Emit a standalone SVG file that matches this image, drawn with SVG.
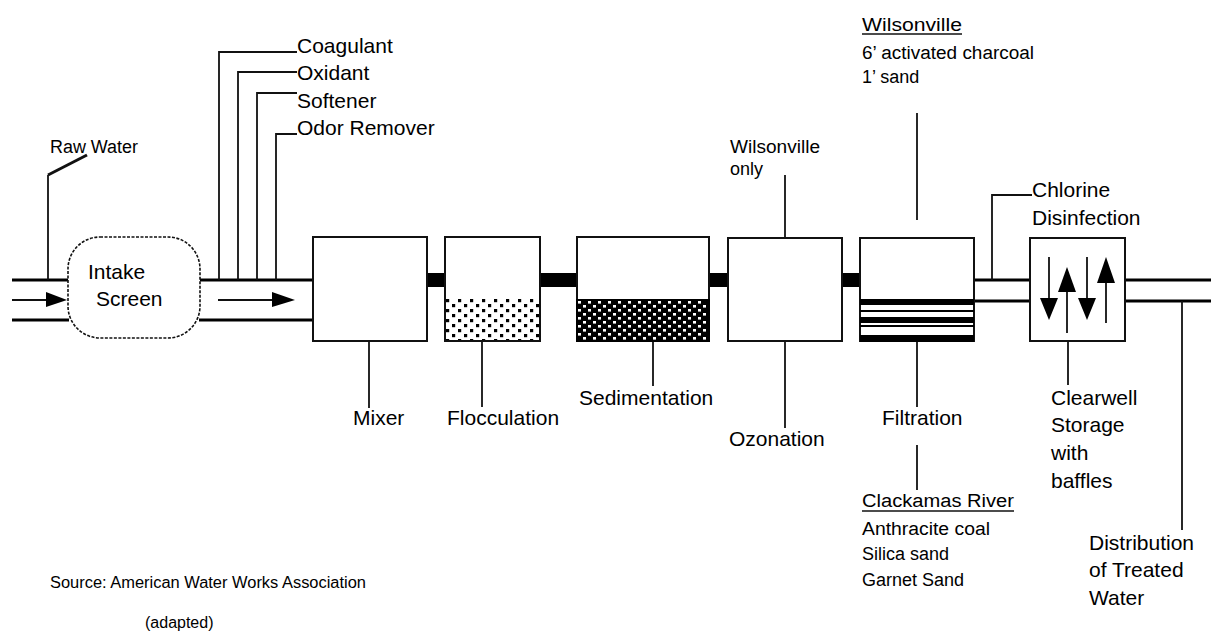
<svg xmlns="http://www.w3.org/2000/svg" width="1211" height="633" viewBox="0 0 1211 633">
<style>
text{font-family:"Liberation Sans",Arial,sans-serif;fill:#000;}
.lbl{font-size:21px;}
.sm{font-size:18px;}
.xs{font-size:16px;}
.ld{stroke:#111;stroke-width:1.8;fill:none;}
.pipe{stroke:#000;stroke-width:3.2;fill:none;}
.box{fill:#fff;stroke:#111;stroke-width:2;}
.bar{fill:#000;}
.ah{fill:#000;}
</style>
<defs>
<pattern id="floc" width="12" height="10" patternUnits="userSpaceOnUse" x="445" y="298">
<rect width="12" height="10" fill="#fff"/>
<rect x="1" y="1" width="3.2" height="3.2" fill="#000"/>
<rect x="7" y="6" width="3.2" height="3.2" fill="#000"/>
</pattern>
<pattern id="sed" width="10" height="8" patternUnits="userSpaceOnUse" x="577" y="300">
<rect width="10" height="8" fill="#000"/>
<rect x="1" y="1" width="3" height="2.6" fill="#fff"/>
<rect x="6" y="5" width="3" height="2.6" fill="#fff"/>
</pattern>
</defs>

<g id="connectors">
<line class="pipe" x1="12" y1="280" x2="69" y2="280"/>
<line class="pipe" x1="12" y1="320" x2="69" y2="320"/>
<line class="ld" x1="12" y1="300" x2="50" y2="300"/>
<polygon class="ah" points="46,292 67,300 46,307"/>
<line class="pipe" x1="199" y1="280" x2="313" y2="280"/>
<line class="pipe" x1="199" y1="320" x2="313" y2="320"/>
<line class="ld" x1="218" y1="300" x2="275" y2="300"/>
<polygon class="ah" points="272,292 295,300 272,307"/>
<polyline class="ld" points="219,280 219,52 297,52"/>
<polyline class="ld" points="238,280 238,72 297,72"/>
<polyline class="ld" points="257,280 257,93 297,93"/>
<polyline class="ld" points="276,280 276,134 297,134"/>
<polyline class="ld" points="48,280 48,175"/>
<line x1="48" y1="175" x2="87" y2="155" stroke="#111" stroke-width="3"/>
<rect class="bar" x="427" y="273" width="25" height="14"/>
<rect class="bar" x="535" y="273" width="49" height="14"/>
<rect class="bar" x="705" y="273" width="30" height="14"/>
<rect class="bar" x="837" y="273" width="23" height="14"/>
<line class="pipe" x1="974" y1="280" x2="1030" y2="280"/>
<line class="pipe" x1="974" y1="301" x2="1030" y2="301"/>
<polyline class="ld" points="992,280 992,195 1032,195"/>
<line class="pipe" x1="1125" y1="280" x2="1211" y2="280"/>
<line class="pipe" x1="1125" y1="301" x2="1211" y2="301"/>
<line class="ld" x1="1182" y1="301" x2="1182" y2="530"/>
<line class="ld" x1="369" y1="341" x2="369" y2="408"/>
<line class="ld" x1="482" y1="341" x2="482" y2="407"/>
<line class="ld" x1="653" y1="341" x2="653" y2="386"/>
<line class="ld" x1="785" y1="175" x2="785" y2="238"/>
<line class="ld" x1="785" y1="341" x2="785" y2="428"/>
<line class="ld" x1="917" y1="113" x2="917" y2="220"/>
<line class="ld" x1="917" y1="341" x2="917" y2="407"/>
<line class="ld" x1="917" y1="445" x2="917" y2="490"/>
<line class="ld" x1="1068" y1="341" x2="1068" y2="385"/>
</g>

<g id="raw-water">
<text class="sm" x="50" y="153" textLength="88" lengthAdjust="spacingAndGlyphs">Raw Water</text>
</g>

<g id="chemicals">
<text class="lbl" x="297" y="53">Coagulant</text>
<text class="lbl" x="297" y="80">Oxidant</text>
<text class="lbl" x="297" y="108">Softener</text>
<text class="lbl" x="297" y="135">Odor Remover</text>
</g>

<g id="intake-screen">
<rect x="68" y="237" width="132" height="101" rx="32" ry="32" fill="#fff" stroke="#111" stroke-width="1.6" stroke-dasharray="3 1.5"/>
<text class="lbl" x="88" y="279">Intake</text>
<text class="lbl" x="96" y="306">Screen</text>
</g>

<g id="mixer">
<rect class="box" x="313" y="237" width="114" height="104"/>
<text class="lbl" x="353" y="425">Mixer</text>
</g>

<g id="flocculation">
<rect class="box" x="445" y="237" width="95" height="104"/>
<rect x="446" y="298" width="93" height="42" fill="url(#floc)"/>
<text class="lbl" x="447" y="425">Flocculation</text>
</g>

<g id="sedimentation">
<rect class="box" x="577" y="237" width="132" height="104"/>
<rect x="577" y="300" width="132" height="41" fill="url(#sed)" stroke="#000" stroke-width="2"/>
<text class="lbl" x="579" y="405">Sedimentation</text>
</g>

<g id="ozonation">
<rect class="box" x="728" y="238" width="114" height="103"/>
<text class="sm" x="730" y="153" textLength="90" lengthAdjust="spacingAndGlyphs">Wilsonville</text>
<text class="sm" x="730" y="175">only</text>
<text class="lbl" x="729" y="446">Ozonation</text>
</g>

<g id="filtration">
<rect class="box" x="860" y="238" width="114" height="103"/>
<rect x="860" y="299" width="114" height="6" fill="#000"/>
<rect x="860" y="310" width="114" height="2" fill="#000"/>
<rect x="860" y="317" width="114" height="6" fill="#000"/>
<rect x="860" y="325" width="114" height="2" fill="#000"/>
<rect x="860" y="335" width="114" height="7" fill="#000"/>
<text class="lbl" x="882" y="425">Filtration</text>
<text class="sm" x="862" y="31" textLength="100" lengthAdjust="spacingAndGlyphs">Wilsonville</text>
<line x1="862" y1="34" x2="962" y2="34" stroke="#111" stroke-width="1.5"/>
<text class="sm" x="862" y="59" textLength="172" lengthAdjust="spacingAndGlyphs">6’ activated charcoal</text>
<text class="sm" x="862" y="83">1’ sand</text>
<text class="sm" x="862" y="507" textLength="152" lengthAdjust="spacingAndGlyphs">Clackamas River</text>
<line x1="862" y1="511" x2="1014" y2="511" stroke="#111" stroke-width="1.5"/>
<text class="sm" x="862" y="535" textLength="128" lengthAdjust="spacingAndGlyphs">Anthracite coal</text>
<text class="sm" x="862" y="560">Silica sand</text>
<text class="sm" x="862" y="586">Garnet Sand</text>
</g>

<g id="chlorine">
<text class="lbl" x="1032" y="197">Chlorine</text>
<text class="lbl" x="1032" y="225">Disinfection</text>
</g>

<g id="clearwell">
<rect class="box" x="1030" y="238" width="95" height="103"/>
<line class="ld" x1="1049" y1="257" x2="1049" y2="300"/>
<polygon class="ah" points="1040,298 1058,298 1049,320"/>
<line class="ld" x1="1067" y1="333" x2="1067" y2="290"/>
<polygon class="ah" points="1058,292 1076,292 1067,267"/>
<line class="ld" x1="1087" y1="257" x2="1087" y2="300"/>
<polygon class="ah" points="1078,298 1096,298 1087,320"/>
<line class="ld" x1="1106" y1="323" x2="1106" y2="282"/>
<polygon class="ah" points="1097,283 1115,283 1106,257"/>
<text class="lbl" x="1051" y="405">Clearwell</text>
<text class="lbl" x="1051" y="432">Storage</text>
<text class="lbl" x="1051" y="460">with</text>
<text class="lbl" x="1051" y="488">baffles</text>
</g>

<g id="distribution">
<text class="lbl" x="1089" y="550">Distribution</text>
<text class="lbl" x="1089" y="577">of Treated</text>
<text class="lbl" x="1089" y="605">Water</text>
</g>

<g id="source">
<text class="xs" x="50" y="588" textLength="316" lengthAdjust="spacingAndGlyphs">Source: American Water Works Association</text>
<text class="xs" x="145" y="628">(adapted)</text>
</g>
</svg>
